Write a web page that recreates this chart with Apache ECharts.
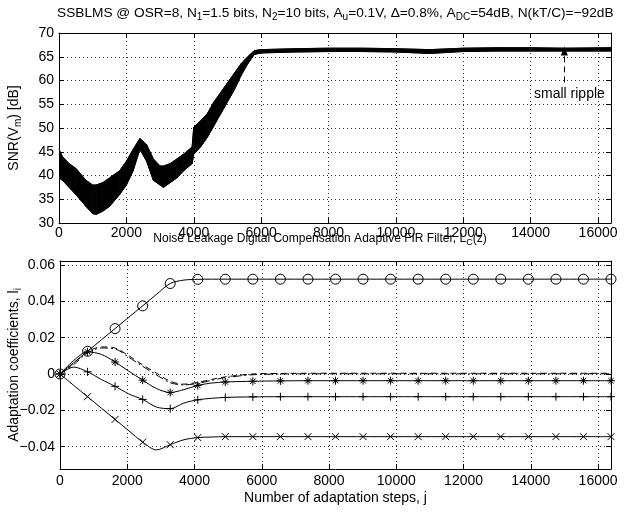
<!DOCTYPE html>
<html><head><meta charset="utf-8">
<script src="https://cdn.jsdelivr.net/npm/echarts@6/dist/echarts.min.js"></script>
<style>html,body{margin:0;padding:0;background:#fff}#c{width:628px;height:512px}</style>
</head><body><div id="c"></div>
<script>
// ---- top panel: SNR envelope ----
const snrX = [0,100,300,500,800,1000,1100,1300,1500,1800,2000,2200,2400,2600,2800,3000,3100,3300,3500,3700,3950,4000,4200,4400,4600,4800,5000,5200,5400,5600,5800,6000,7000,8000,9000,10000,11000,12000,13000,14000,15000,16384];
const snrUpper = [45.5,44.0,42.5,41.5,39.0,38.0,38.0,38.5,39.5,41.0,43.0,45.5,47.8,46.5,43.5,42.0,42.0,42.5,43.5,44.5,46.0,50.2,51.5,53.0,55.5,57.5,59.5,61.5,63.5,65.0,66.3,66.5,66.7,66.8,66.8,66.7,66.5,66.8,66.9,66.9,66.8,66.9];
const snrLower = [39.5,39.0,37.5,36.0,33.5,32.0,31.8,32.5,33.5,36.0,38.0,41.0,45.5,43.0,39.0,38.0,37.5,38.5,39.5,41.0,42.5,44.5,46.0,48.0,50.5,53.0,55.5,58.0,61.0,63.5,65.5,65.8,66.0,66.1,66.1,66.0,65.7,66.1,66.2,66.2,66.2,66.2];
const snrTicksX = [0,2000,4000,6000,8000,10000,12000,14000,16000];
const snrTicksY = [30,35,40,45,50,55,60,65,70];
const rippleArrow = {x:15000, from:59.6, to:66.2};
const rippleText = {x:15150, y:57.1, text:'small ripple'};

// ---- bottom panel: adaptation coefficients ----
const stepX = [0,410,819,1229,1638,2048,2458,2867,3277,3686,4096,4506,4915,5734,6554,7373,8192,9011,9830,10650,11469,12288,13107,13926,14746,15565,16384];
const markerStep = 819.2;
const coefCircle = [0,0.0063,0.0125,0.0188,0.0250,0.0313,0.0375,0.0438,0.0498,0.0517,0.0521,0.0522,0.0522,0.0522,0.0522,0.0522,0.0522,0.0522,0.0522,0.0522,0.0522,0.0522,0.0522,0.0522,0.0522,0.0522,0.0522];
const coefStar = [0,0.0075,0.0122,0.0108,0.0066,0.0015,-0.0034,-0.0080,-0.0102,-0.0086,-0.0063,-0.0050,-0.0044,-0.0040,-0.0038,-0.0037,-0.0037,-0.0037,-0.0037,-0.0037,-0.0037,-0.0037,-0.0037,-0.0037,-0.0037,-0.0037,-0.0037];
const coefPlus = [0,0.0038,0.0012,-0.0030,-0.0068,-0.0110,-0.0140,-0.0182,-0.0191,-0.0160,-0.0142,-0.0134,-0.0129,-0.0126,-0.0125,-0.0125,-0.0125,-0.0125,-0.0125,-0.0125,-0.0125,-0.0125,-0.0125,-0.0125,-0.0125,-0.0125,-0.0125];
const coefCross = [0,-0.0063,-0.0125,-0.0188,-0.0250,-0.0313,-0.0375,-0.0418,-0.0389,-0.0362,-0.0350,-0.0347,-0.0345,-0.0345,-0.0345,-0.0345,-0.0345,-0.0345,-0.0345,-0.0345,-0.0345,-0.0345,-0.0345,-0.0345,-0.0345,-0.0345,-0.0345];
const coefDash = [0,0.0060,0.0122,0.0149,0.0143,0.0100,0.0050,0.0005,-0.0040,-0.0056,-0.0046,-0.0030,-0.0016,0.0000,0.0003,0.0004,0.0004,0.0004,0.0004,0.0004,0.0004,0.0004,0.0004,0.0004,0.0004,0.0004,0.0004];
const coefDashDot = [0,0.0052,0.0116,0.0143,0.0138,0.0092,0.0042,-0.0005,-0.0048,-0.0060,-0.0052,-0.0035,-0.0020,-0.0004,0.0000,0.0001,0.0001,0.0001,0.0001,0.0001,0.0001,0.0001,0.0001,0.0001,0.0001,0.0001,0.0001];
const coefTicksX = [0,2000,4000,6000,8000,10000,12000,14000,16000];
const coefTicksY = [-0.04,-0.02,0,0.02,0.04,0.06];

const FONT = 'Liberation Sans, Arial, Helvetica, sans-serif';
const FS = 14;
const gridLine = {show:true, lineStyle:{color:'#333', type:[1,3], width:1}};
const axLine = {show:true, onZero:false, lineStyle:{color:'#000', width:1}};
const tick = {show:true, inside:true, length:5, lineStyle:{color:'#000'}};

function onTick(v, list){ return list.some(t => Math.abs(t - v) < 1e-7); }
function xFmt(v){ return onTick(v, snrTicksX) ? String(v) : ''; }
function cFmt(v){
  if (!onTick(v, coefTicksY)) return '';
  if (Math.abs(v) < 1e-9) return '0';
  return (v < 0 ? '\u2212' : '') + Math.abs(v).toFixed(2);
}

const SYM = {
  circle: 'circle',
  star: 'path://M5,0L5,10M0,5L10,5M1.6,1.6L8.4,8.4M8.4,1.6L1.6,8.4',
  plus: 'path://M5,0L5,10M0,5L10,5',
  cross: 'path://M0,0L10,10M10,0L0,10'
};
function mk(vals, sym){
  return stepX.map((x,i) => {
    const k = x / markerStep;
    const isMarker = sym && Math.abs(k - Math.round(k)) < 0.01;
    return {value:[x, vals[i]], symbol: isMarker ? SYM[sym] : 'none'};
  });
}
function coefSeries(name, vals, sym, size, lineType){
  return {
    name, type:'line', xAxisIndex:2, yAxisIndex:2, data: mk(vals, sym),
    smooth:0.3, showSymbol:true, showAllSymbol:true, symbolSize:size,
    lineStyle:{color:'#000', width:1, type: lineType || 'solid'},
    itemStyle:{color:'rgba(0,0,0,0)', borderColor:'#000', borderWidth:1},
    emphasis:{disabled:true}, animation:false, z:3
  };
}

const chart = echarts.init(document.getElementById('c'), null, {renderer:'canvas'});
const sub = {fontSize:10, fontFamily:FONT, color:'#000', padding:[9,0,0,0], lineHeight:10};
const sub2 = {fontSize:9, fontFamily:FONT, color:'#000', padding:[8,0,0,0], lineHeight:9};
chart.setOption({
  animation:false,
  backgroundColor:'#fff',
  textStyle:{fontFamily:FONT, color:'#000'},
  title:[
    {text:'SSBLMS @ OSR=8, N{s|1}=1.5 bits, N{s|2}=10 bits, A{s|u}=0.1V, \u0394=0.8%, A{s|DC}=54dB, N(kT/C)=\u221292dB',
     left:52, top:0,
     textStyle:{fontSize:13.7, fontWeight:'normal', fontFamily:FONT, color:'#000', lineHeight:16, rich:{s:sub}}},
    {text:'Noise Leakage Digital Compensation Adaptive FIR Filter, L{s|C}(z)',
     left:315, textAlign:'center', top:227,
     textStyle:{fontSize:12, fontWeight:'normal', fontFamily:FONT, color:'#000', lineHeight:14, rich:{s:sub2}}}
  ],
  grid:[
    {left:59, right:17, top:33, height:190, containLabel:false, outerBoundsMode:'none'},
    {left:60, right:17, top:261, height:208, containLabel:false, outerBoundsMode:'none'}
  ],
  xAxis:[
    {type:'value', gridIndex:0, min:0, max:16384, interval:2000, position:'bottom',
     axisLine:axLine, axisTick:tick, splitLine:gridLine,
     axisLabel:{formatter:xFmt, fontSize:FS, color:'#000', margin:3}},
    {type:'value', gridIndex:0, min:0, max:16384, interval:2000, position:'top',
     axisLine:axLine, axisTick:tick, splitLine:{show:false}, axisLabel:{show:false}},
    {type:'value', gridIndex:1, min:0, max:16384, interval:2000, position:'bottom',
     axisLine:axLine, axisTick:tick, splitLine:gridLine,
     axisLabel:{formatter:xFmt, fontSize:FS, color:'#000', margin:5},
     name:'Number of adaptation steps, j', nameLocation:'middle', nameGap:22, nameMoveOverlap:false,
     nameTextStyle:{fontSize:FS, color:'#000', fontFamily:FONT}},
    {type:'value', gridIndex:1, min:0, max:16384, interval:2000, position:'top',
     axisLine:axLine, axisTick:tick, splitLine:{show:false}, axisLabel:{show:false}}
  ],
  yAxis:[
    {type:'value', gridIndex:0, min:30, max:70, interval:5, position:'left',
     axisLine:axLine, axisTick:tick, splitLine:gridLine,
     axisLabel:{fontSize:FS, color:'#000', margin:5},
     name:'SNR(V{s|m}) [dB]', nameLocation:'middle', nameGap:38, nameRotate:90, nameMoveOverlap:false,
     nameTextStyle:{fontSize:FS, color:'#000', fontFamily:FONT, rich:{s:sub}}},
    {type:'value', gridIndex:0, min:30, max:70, interval:5, position:'right',
     axisLine:axLine, axisTick:tick, splitLine:{show:false}, axisLabel:{show:false}},
    {type:'value', gridIndex:1, min:-0.0523, max:0.0622, splitNumber:5, position:'left',
     axisLine:axLine, axisTick:tick, splitLine:gridLine,
     axisLabel:{formatter:cFmt, fontSize:FS, color:'#000', margin:5},
     name:'Adaptation coefficients, l{s|i}', nameLocation:'middle', nameGap:39, nameRotate:90, nameMoveOverlap:false,
     nameTextStyle:{fontSize:FS, color:'#000', fontFamily:FONT, rich:{s:sub}}},
    {type:'value', gridIndex:1, min:-0.0523, max:0.0622, splitNumber:5, position:'right',
     axisLine:axLine, axisTick:tick, splitLine:{show:false}, axisLabel:{show:false}}
  ],
  series:[
    {name:'band', type:'custom', xAxisIndex:0, yAxisIndex:0, clip:true,
     data: snrX.map((x,i)=>[x, snrLower[i], snrUpper[i]]),
     encode:{x:0, y:[1,2]},
     renderItem:function(params, api){
       const j = params.dataIndexInside;
       if (j >= params.dataInsideLength - 1) return null;
       const a = api.coord([api.value(0), api.value(1)]);
       const b = api.coord([api.value(0), api.value(2)]);
       const c = api.coord([api.value(0, j+1), api.value(2, j+1)]);
       const d = api.coord([api.value(0, j+1), api.value(1, j+1)]);
       return {type:'polygon', shape:{points:[a,b,c,d]}, style:{fill:'#000', stroke:'#000', lineWidth:0.8}};
     }, z:2},
    {name:'upper', type:'line', xAxisIndex:0, yAxisIndex:0, symbol:'none',
     data: snrX.map((x,i)=>[x, snrUpper[i]]),
     lineStyle:{color:'#000', width:1}, emphasis:{disabled:true}, z:3,
     markLine:{silent:true, symbol:['none','triangle'], symbolSize:[7,9],
       lineStyle:{color:'#000', type:[6,4], width:1}, label:{show:false},
       data:[[{coord:[rippleArrow.x, rippleArrow.from]},{coord:[rippleArrow.x, rippleArrow.to]}]]},
     markPoint:{silent:true, symbol:'rect', symbolSize:1, itemStyle:{color:'rgba(0,0,0,0)'},
       label:{show:true, position:'inside', formatter:rippleText.text, fontSize:FS, color:'#000', fontFamily:FONT},
       data:[{coord:[rippleText.x, rippleText.y]}]}},
    {name:'lower', type:'line', xAxisIndex:0, yAxisIndex:0, symbol:'none',
     data: snrX.map((x,i)=>[x, snrLower[i]]),
     lineStyle:{color:'#000', width:1}, emphasis:{disabled:true}, z:3},
    coefSeries('dash', coefDash, null, 0, [6,4]),
    coefSeries('dashdot', coefDashDot, null, 0, [8,3,2,3]),
    coefSeries('cross', coefCross, 'cross', 7),
    coefSeries('plus', coefPlus, 'plus', 8),
    coefSeries('star', coefStar, 'star', 8),
    coefSeries('circle', coefCircle, 'circle', 10)
  ]
});
</script></body></html>
